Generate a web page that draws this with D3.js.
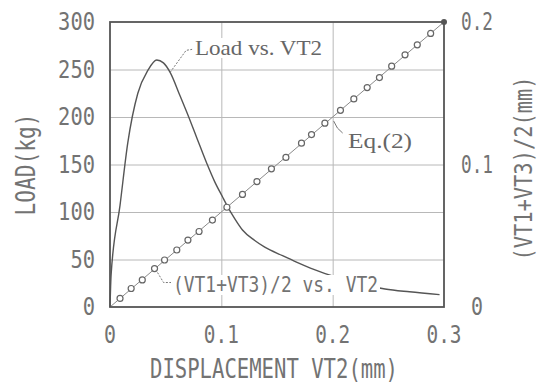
<!DOCTYPE html>
<html>
<head>
<meta charset="utf-8">
<script src="https://cdn.jsdelivr.net/npm/d3@7"></script>
<style>
  body { margin: 0; background: #fff; }
  svg { display: block; }
  .lbl { font-family: "DejaVu Sans Mono", "Liberation Mono", monospace; fill: #737373; }
  .note { font-family: "Liberation Serif", "DejaVu Serif", serif; fill: #666; }
</style>
</head>
<body>
<div id="chart"></div>
<script>
// displacement VT2 (mm) vs load (kg)
const loadDisp = [0, 0.001, 0.009, 0.016, 0.025, 0.034, 0.042, 0.048, 0.054,
  0.063, 0.069, 0.078, 0.087, 0.094, 0.101, 0.105, 0.112, 0.119, 0.130, 0.139, 0.155, 0.168, 0.180,
  0.207, 0.247, 0.269, 0.296];
const loadKg = [0, 34, 107, 173, 225, 249, 260, 257, 247,
  222, 205, 178, 151, 132, 116, 107, 93, 81, 70, 63, 54, 47, 41,
  30, 19, 16, 13];

// measured (VT1+VT3)/2 (mm) vs VT2 (mm)
const avgDisp = [0.009, 0.019, 0.029, 0.040, 0.049, 0.060, 0.070, 0.080, 0.092, 0.105, 0.119, 0.132, 0.145,
  0.158, 0.172, 0.181, 0.193, 0.207, 0.219, 0.231, 0.242, 0.253, 0.265, 0.276, 0.288];
const avgVal = [0.006, 0.013, 0.019, 0.027, 0.033, 0.040, 0.047, 0.053, 0.061, 0.070, 0.079, 0.088, 0.097,
  0.105, 0.115, 0.121, 0.129, 0.138, 0.146, 0.154, 0.161, 0.169, 0.177, 0.184, 0.192];
const avgEnd = [0.3, 0.2];

// Eq.(2) straight line
const eqLine = [[0, 0], [0.3, 0.2]];

const xTicks = [0, 0.1, 0.2, 0.3];
const yTicks = [0, 50, 100, 150, 200, 250, 300];
const y2Ticks = [0, 0.1, 0.2];

const margin = { top: 22, right: 94, bottom: 76, left: 110 };
const width = 538 - margin.left - margin.right;
const height = 383 - margin.top - margin.bottom;

const svg = d3.select("#chart").append("svg")
    .attr("width", 538)
    .attr("height", 383);

const g = svg.append("g")
    .attr("transform", "translate(" + margin.left + "," + margin.top + ")");

const x = d3.scaleLinear().domain([0, 0.3]).range([0, width]);
const y = d3.scaleLinear().domain([0, 300]).range([height, 0]);
const y2 = d3.scaleLinear().domain([0, 0.2]).range([height, 0]);

// squeeze mono text to the narrow lettering of the original
function squeeze(sel, len) {
  sel.attr("textLength", len).attr("lengthAdjust", "spacingAndGlyphs");
}

// grid
g.append("g")
    .call(d3.axisLeft(y).tickValues(yTicks.slice(1, -1)).tickSize(-width).tickFormat(""))
    .call(a => a.select(".domain").remove())
    .selectAll("line").attr("stroke", "#b8b8b8").attr("stroke-width", 1);

g.append("g")
    .attr("transform", "translate(0," + height + ")")
    .call(d3.axisBottom(x).tickValues(xTicks.slice(1, -1)).tickSize(-height).tickFormat(""))
    .call(a => a.select(".domain").remove())
    .selectAll("line").attr("stroke", "#b8b8b8").attr("stroke-width", 1);

// Eq.(2) line
g.append("path")
    .datum(eqLine)
    .attr("fill", "none")
    .attr("stroke", "#8a8a8a")
    .attr("stroke-width", 1)
    .attr("d", d3.line().x(d => x(d[0])).y(d => y2(d[1])));

// load curve
g.append("path")
    .datum(loadDisp.map((d, i) => [d, loadKg[i]]))
    .attr("fill", "none")
    .attr("stroke", "#555")
    .attr("stroke-width", 1.4)
    .attr("d", d3.line().curve(d3.curveMonotoneX).x(d => x(d[0])).y(d => y(d[1])));

// circles
g.selectAll(".pt")
    .data(avgDisp.map((d, i) => [d, avgVal[i]]))
    .enter().append("circle")
    .attr("class", "pt")
    .attr("cx", d => x(d[0]))
    .attr("cy", d => y2(d[1]))
    .attr("r", 3)
    .attr("fill", "#fff")
    .attr("stroke", "#666")
    .attr("stroke-width", 1.2);

g.append("circle")
    .attr("cx", x(avgEnd[0]))
    .attr("cy", y2(avgEnd[1]))
    .attr("r", 3)
    .attr("fill", "#555");

// annotations (white box behind text hides what runs under it)
function note(txt, tx, ty, len, size, cls) {
  const t = g.append("text")
      .attr("class", cls)
      .attr("x", tx)
      .attr("y", ty)
      .style("font-size", size + "px")
      .text(txt);
  squeeze(t, len);
  const b = t.node().getBBox();
  g.insert("rect", () => t.node())
      .attr("x", b.x - 2).attr("y", b.y + 2)
      .attr("width", b.width + 4).attr("height", b.height - 4)
      .attr("fill", "#fff");
  return t;
}

const lx = x(loadDisp[8]), ly = y(loadKg[8]);
g.append("path")
    .attr("d", `M${lx},${ly} L${lx + 16},${ly - 22} L${lx + 22},${ly - 23}`)
    .attr("fill", "none").attr("stroke", "#777").attr("stroke-width", 1)
    .attr("stroke-dasharray", "2,1.5");
note("Load vs. VT2", 85, 33, 127, 21, "note");

g.append("path")
    .attr("d", `M${x(0.2) + 1},${y2(0.1333) + 4} Q${x(0.2) + 4},${y2(0.1333) + 12} ${x(0.2) + 10},${y2(0.1333) + 16}`)
    .attr("fill", "none").attr("stroke", "#777").attr("stroke-width", 1);
note("Eq.(2)", 238, 126, 64, 21, "note");

const cx = x(avgDisp[3]), cy = y2(avgVal[3]);
g.append("path")
    .attr("d", `M${cx + 3},${cy + 4} L${cx + 9},${cy + 14} L${cx + 17},${cy + 14}`)
    .attr("fill", "none").attr("stroke", "#777").attr("stroke-width", 1)
    .attr("stroke-dasharray", "2,1.5");
note("(VT1+VT3)/2 vs. VT2", 63, 270, 205, 21, "lbl");

// frame
g.append("rect")
    .attr("width", width).attr("height", height)
    .attr("fill", "none").attr("stroke", "#555").attr("stroke-width", 1.8);

// tick labels
g.selectAll(".ylab")
    .data(yTicks)
    .enter().append("text")
    .attr("class", "lbl ylab")
    .attr("x", -15)
    .attr("y", d => y(d) + 8)
    .attr("text-anchor", "end")
    .style("font-size", "24px")
    .text(d => d)
    .each(function(d) { squeeze(d3.select(this), String(d).length * 12.3); });

g.selectAll(".xlab")
    .data(xTicks)
    .enter().append("text")
    .attr("class", "lbl xlab")
    .attr("x", d => x(d))
    .attr("y", height + 36)
    .attr("text-anchor", "middle")
    .style("font-size", "24px")
    .text(d => d)
    .each(function(d) { squeeze(d3.select(this), d === 0 ? 12 : 35); });

g.selectAll(".y2lab")
    .data(y2Ticks)
    .enter().append("text")
    .attr("class", "lbl y2lab")
    .attr("x", width + 33)
    .attr("y", d => y2(d) + 8)
    .attr("text-anchor", "middle")
    .style("font-size", "24px")
    .text(d => d)
    .each(function(d) { squeeze(d3.select(this), d === 0 ? 12 : 32); });

// axis titles
squeeze(g.append("text")
    .attr("class", "lbl")
    .attr("x", 164).attr("y", height + 71)
    .attr("text-anchor", "middle")
    .style("font-size", "26px")
    .text("DISPLACEMENT VT2(mm)"), 248);

squeeze(g.append("text")
    .attr("class", "lbl")
    .attr("transform", `translate(-75,${height / 2}) rotate(-90)`)
    .attr("text-anchor", "middle")
    .style("font-size", "26px")
    .text("LOAD(kg)"), 102);

squeeze(g.append("text")
    .attr("class", "lbl")
    .attr("transform", `translate(${width + 88},${height / 2 + 4}) rotate(-90)`)
    .attr("text-anchor", "middle")
    .style("font-size", "24px")
    .text("(VT1+VT3)/2(mm)"), 184);
</script>
</body>
</html>
